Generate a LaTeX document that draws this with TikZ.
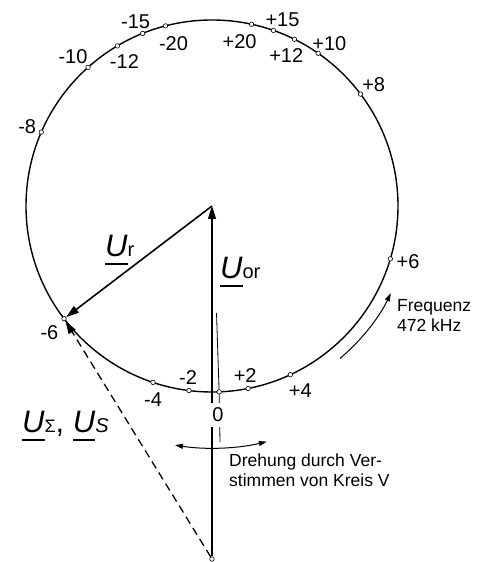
\documentclass[tikz,border=0pt]{standalone}
\usepackage{fontspec}
\setmainfont{Liberation Sans}
\usepackage{tikz}
\usetikzlibrary{arrows.meta,calc}
\newcommand{\zU}{\setbox0\hbox{\itshape U}\rlap{\rule[-8pt]{\wd0}{1.6pt}}\box0}
\newcommand{\zeiger}[1]{{\fontsize{31}{31}\selectfont\zU}{\fontsize{20}{20}\selectfont #1}}

\begin{document}
\begin{tikzpicture}[x=1pt,y=1pt,
    tick/.style={circle,draw,fill=white,inner sep=0pt,minimum size=4.5pt,line width=0.6pt},
    num/.style={font=\fontsize{20}{20}\selectfont,inner sep=0pt},
    note/.style={font=\fontsize{17.5}{20}\selectfont,align=left,anchor=west,inner sep=0pt},
    vec/.style={line width=1.6pt,-{Triangle[length=13pt,width=8pt]}},
    arr/.style={line width=1pt,-{Triangle[length=8pt,width=5pt]}}]
  \useasboundingbox (0,0) rectangle (490,562);
  \coordinate (O) at (212,356);
  \draw[line width=1.4pt] (O) circle[radius=186];
  \node[tick] (B) at (212,3) {};
  \node[tick] (k0) at ($(O)+(272.2:186)$) {};
  \foreach \i/\ang/\lab/\dir/\dist in {1/217.3/-6/223/20, 2/251.5/-4/-90/17, 3/262.9/-2/94/13,
      5/281.2/+2/103/13, 6/294.9/+4/-58/19, 7/343.5/+6/-10/18, 8/37/+8/35/16,
      9/55.2/+10/42/15, 10/63.7/+12/243/18, 11/70.7/+15/50/14, 12/77.7/+20/235/21,
      13/104.5/-20/-65/19, 14/111.9/-15/120/14, 15/120.6/-12/-66/17.5,
      16/131.8/-10/144/18.6, 17/156.6/-8/160/15}
    {\node[tick] (k\i) at ($(O)+(\ang:186)$) {};
     \node[num] (n\i) at ($(k\i)+(\dir:\dist)$) {\lab};}
  \coordinate (r1) at (216.5,249);
  \coordinate (r2) at (220,120);
  \draw[line width=0.8pt] (r1) -- (k0) -- (r2);
  \draw[vec] (B) -- (O);
  \draw[vec] (O) -- (k1);
  \draw[vec,line width=1.3pt,dash pattern=on 8pt off 5pt] (B) -- (k1);
  \node[num,fill=white,minimum width=20pt,minimum height=24pt] (n0) at (218,147) {0};
  \node[anchor=base west,inner sep=0pt] (ur) at (105,305) {\zeiger{r}};
  \node[anchor=base west,inner sep=0pt] (uor) at (220,283) {\zeiger{or}};
  \node[anchor=base west,inner sep=0pt] (us) at (22,129) {{\fontsize{31}{31}\selectfont\zU}{\fontsize{18}{18}\selectfont Σ}{\fontsize{31}{31}\selectfont, \zU}{\fontsize{20}{20}\selectfont\itshape S}};
  \node[note] (fq) at (397,247) {Frequenz\\472 kHz};
  \node[note] (dr) at (229,92) {Drehung durch Ver-\\stimmen von Kreis V};
  \draw[arr] ($(O)+(310:199)$) arc[start angle=310,end angle=334,radius=199];
  \draw[arr,{Triangle[length=8pt,width=5pt]}-{Triangle[length=8pt,width=5pt]}] ($(O)+(261.2:242)$) arc[start angle=261.2,end angle=283.1,radius=242];
\end{tikzpicture}
\end{document}
